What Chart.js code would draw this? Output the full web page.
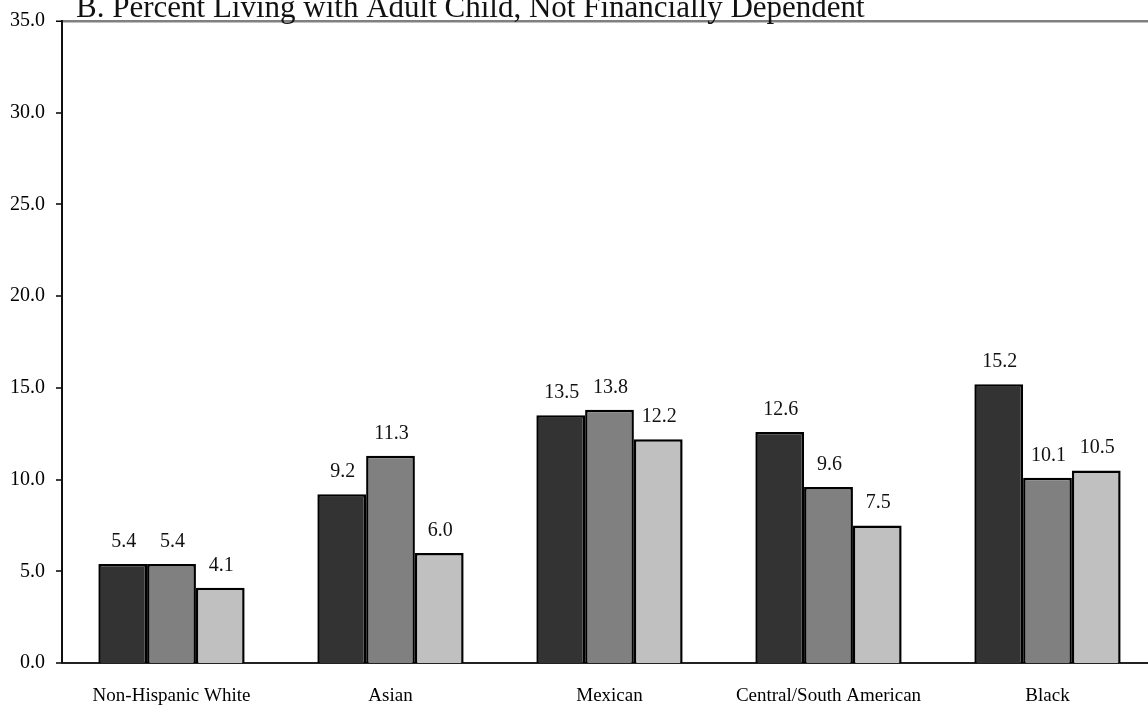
<!DOCTYPE html>
<html>
<head>
<meta charset="utf-8">
<script src="https://cdn.jsdelivr.net/npm/chart.js@4/dist/chart.umd.min.js"></script>
<style>
  html, body { margin: 0; padding: 0; background: #fff; }
  #wrap { width: 1148px; height: 708px; position: relative; overflow: hidden; }
  #myChart { display: block; }
</style>
</head>
<body>
<!-- the plot runs a little past the right edge in the original, so the canvas is wider than the view -->
<div id="wrap"><canvas id="myChart" width="1157" height="708"></canvas></div>
<script>
// chart data
const titleText = "B. Percent Living with Adult Child, Not Financially Dependent";
const categories = ["Non-Hispanic White", "Asian", "Mexican", "Central/South American", "Black"];
const series1 = [5.4, 9.2, 13.5, 12.6, 15.2];
const series2 = [5.4, 11.3, 13.8, 9.6, 10.1];
const series3 = [4.1, 6.0, 12.2, 7.5, 10.5];
const seriesNames = ["Series 1", "Series 2", "Series 3"];
const seriesColors = ["#333333", "#808080", "#c0c0c0"];
const yTicks = [0, 5, 10, 15, 20, 25, 30, 35];

const serif = "'Liberation Serif', 'Times New Roman', serif";

// draws value labels above bars and the clipped title
const labelPlugin = {
    id: "labelPlugin",
    afterDatasetsDraw(chart) {
        const ctx = chart.ctx;
        ctx.save();
        ctx.fillStyle = "#111";
        ctx.font = "20px " + serif;
        ctx.textAlign = "center";
        ctx.textBaseline = "alphabetic";
        chart.data.datasets.forEach((ds, i) => {
            chart.getDatasetMeta(i).data.forEach((bar, j) => {
                ctx.fillText(ds.data[j].toFixed(1), bar.x + 1, bar.y - 17);
            });
        });
        ctx.font = "31px " + serif;
        ctx.textAlign = "left";
        ctx.fillText(titleText, chart.chartArea.left + 14, 17);
        ctx.restore();
    }
};

const ctx = document.getElementById("myChart").getContext("2d");
const myChart = new Chart(ctx, {
    type: "bar",
    data: {
        labels: categories,
        datasets: [series1, series2, series3].map((d, i) => ({
            label: seriesNames[i],
            data: d,
            backgroundColor: seriesColors[i],
            borderColor: "#000",
            borderWidth: 2.5,
            borderSkipped: "bottom",
            barPercentage: 1,
            categoryPercentage: 0.668
        }))
    },
    options: {
        responsive: false,
        animation: false,
        layout: { padding: { top: 20, right: 0, left: 0, bottom: 0 } },
        plugins: {
            legend: { display: false },
            tooltip: { enabled: false }
        },
        scales: {
            x: {
                afterFit(axis) {
                    axis.height = 45;
                },
                grid: { display: false, drawTicks: false },
                border: { color: "#222", width: 2 },
                ticks: {
                    color: "#000",
                    font: { family: serif, size: 19 },
                    padding: 22,
                    maxRotation: 0
                }
            },
            y: {
                min: 0,
                max: 35,
                afterBuildTicks(axis) {
                    axis.ticks = yTicks.map(v => ({ value: v }));
                },
                afterFit(axis) {
                    axis.width = 62;
                },
                grid: {
                    color: c => (c.tick && c.tick.value === 35 ? "#808080" : "rgba(0,0,0,0)"),
                    lineWidth: c => (c.tick && c.tick.value === 35 ? 2.5 : 0),
                    drawOnChartArea: true,
                    tickColor: "#000",
                    tickLength: 6,
                    tickWidth: 1.5
                },
                border: { color: "#111", width: 2 },
                ticks: {
                    color: "#000",
                    font: { family: serif, size: 20, lineHeight: 1 },
                    padding: 11,
                    callback: v => Number(v).toFixed(1)
                }
            }
        }
    },
    plugins: [labelPlugin]
});
</script>
</body>
</html>
